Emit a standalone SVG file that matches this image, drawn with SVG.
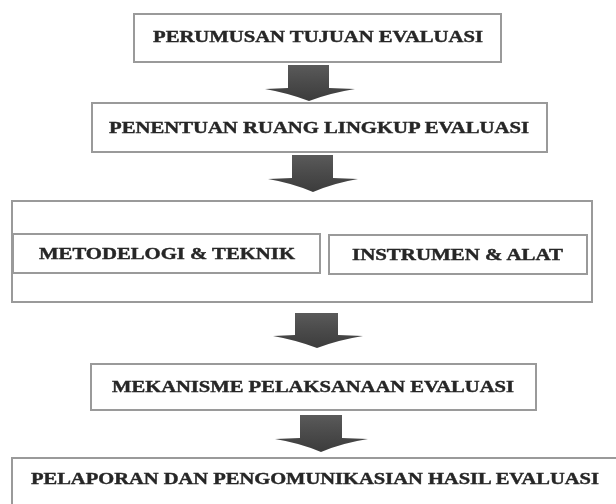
<svg xmlns="http://www.w3.org/2000/svg" width="616" height="504" viewBox="0 0 616 504">
<style>
.box{fill:#fff;stroke:#9a9a9a;stroke-width:2}
.lbl{font-family:"Liberation Serif","Times New Roman",serif;font-weight:bold;font-size:16px;fill:#262626;stroke:#262626;stroke-width:0.4;filter:url(#soft)}
.arr{fill:url(#ag)}
</style>
<defs>
<linearGradient id="ag" x1="0" y1="0" x2="0" y2="1">
<stop offset="0" stop-color="#5a5a5a"/>
<stop offset="0.5" stop-color="#4a4a4a"/>
<stop offset="1" stop-color="#3c3c3c"/>
</linearGradient>
<filter id="soft" x="-5%" y="-30%" width="110%" height="160%"><feGaussianBlur stdDeviation="0.35"/></filter>
</defs>
<rect width="616" height="504" fill="#fff"/>
<g id="connectors">
<path class="arr" d="M288,65 H329 V88 L355,89 Q330,93 309,101 Q288,93 265,89 L288,88 Z"/>
<path class="arr" d="M292,155 H333 V178 L358,179 Q334,183 313,192 Q292,183 268,179 L292,178 Z"/>
<path class="arr" d="M295,313 H338 V335 L363,336 Q338,340 317,348 Q296,340 273,336 L295,335 Z"/>
<path class="arr" d="M300,415 H342 V438 L368,439 Q342,443 321,452 Q300,443 275,439 L300,438 Z"/>
</g>
<g id="n1">
<rect class="box" x="134" y="14" width="367" height="48"/>
<text class="lbl" x="153" y="42" textLength="330" lengthAdjust="spacingAndGlyphs">PERUMUSAN TUJUAN EVALUASI</text>
</g>
<g id="n2">
<rect class="box" x="92" y="103" width="455" height="49"/>
<text class="lbl" x="109" y="133" textLength="420" lengthAdjust="spacingAndGlyphs">PENENTUAN RUANG LINGKUP EVALUASI</text>
</g>
<g id="n3">
<rect class="box" x="12" y="201" width="580" height="101"/>
</g>
<g id="n3a">
<rect class="box" x="13" y="234" width="307" height="39"/>
<text class="lbl" x="39" y="259" textLength="256" lengthAdjust="spacingAndGlyphs">METODELOGI &amp; TEKNIK</text>
</g>
<g id="n3b">
<rect class="box" x="329" y="235" width="258" height="39"/>
<text class="lbl" x="352" y="260" textLength="211" lengthAdjust="spacingAndGlyphs">INSTRUMEN &amp; ALAT</text>
</g>
<g id="n4">
<rect class="box" x="91" y="364" width="445" height="46"/>
<text class="lbl" x="112" y="392" textLength="402" lengthAdjust="spacingAndGlyphs">MEKANISME PELAKSANAAN EVALUASI</text>
</g>
<g id="n5">
<rect class="box" x="12" y="458" width="610" height="60"/>
<text class="lbl" x="31" y="484" textLength="568" lengthAdjust="spacingAndGlyphs">PELAPORAN DAN PENGOMUNIKASIAN HASIL EVALUASI</text>
</g>
</svg>
